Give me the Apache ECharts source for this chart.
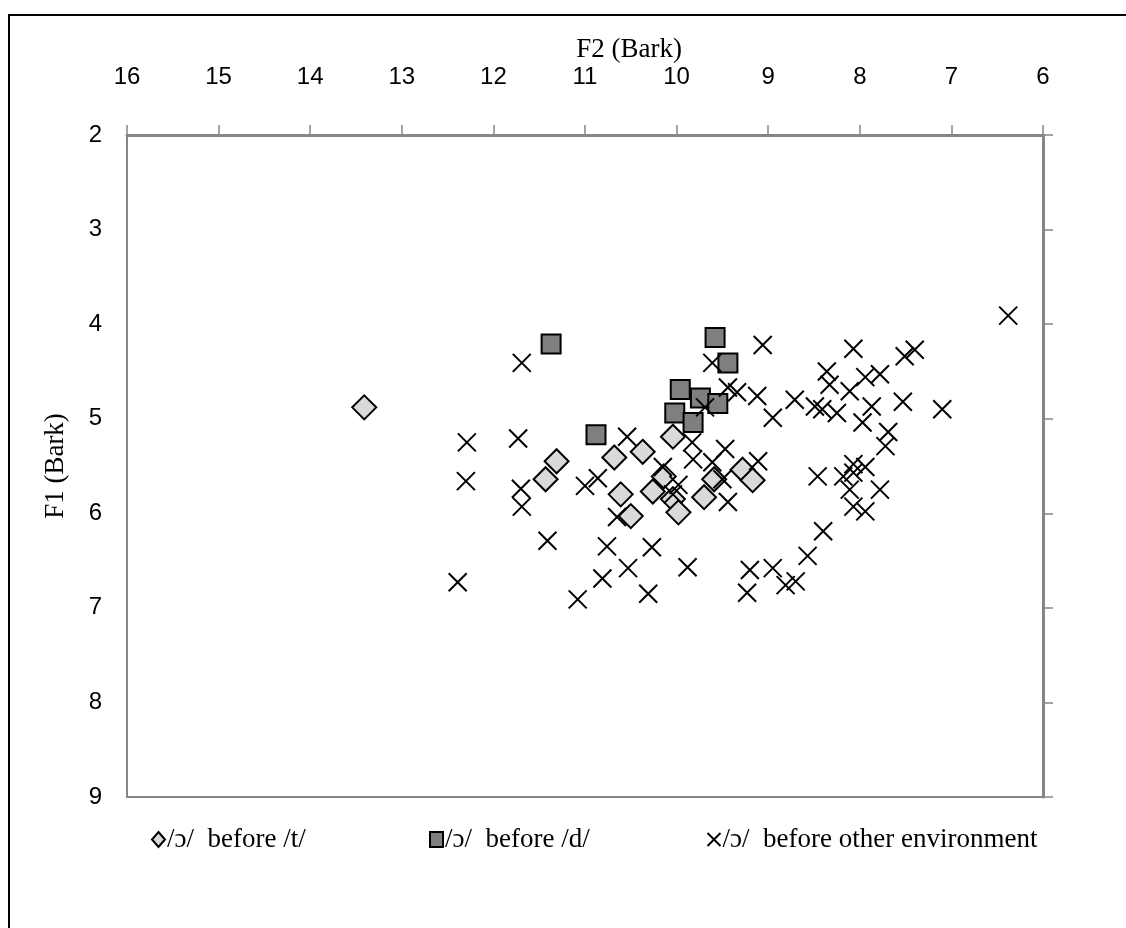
<!DOCTYPE html>
<html>
<head>
<meta charset="utf-8">
<script src="https://cdn.jsdelivr.net/npm/echarts@6/dist/echarts.min.js"></script>
<style>
  html, body { margin: 0; padding: 0; background: #ffffff; }
  #chart { width: 1126px; height: 928px; }
</style>
</head>
<body>
<div id="chart"></div>
<script>
// Vowel /ɔ/ tokens: F2 (Bark) on x, F1 (Bark) on y
const beforeT_F2 = [13.41, 11.31, 11.43, 10.68, 10.37, 10.04, 10.61, 10.50, 10.26, 10.14, 10.04, 9.98, 9.70, 9.59, 9.28, 9.17];
const beforeT_F1 = [4.88, 5.45, 5.64, 5.41, 5.35, 5.19, 5.80, 6.03, 5.77, 5.61, 5.85, 5.99, 5.83, 5.64, 5.54, 5.65];

const beforeD_F2 = [11.37, 9.58, 9.44, 9.96, 9.74, 9.55, 10.02, 9.82, 10.88];
const beforeD_F1 = [4.21, 4.14, 4.41, 4.69, 4.78, 4.84, 4.94, 5.04, 5.17];

const other_F2 = [6.38, 11.69, 12.29, 11.73, 12.30, 11.70, 11.69, 11.41, 12.39, 11.08,
                  10.81, 10.76, 10.53, 10.27, 10.31, 9.88, 11.00, 10.86, 10.54, 10.65,
                  9.83, 9.82, 9.61, 9.47, 10.15, 9.98, 10.04, 9.44, 9.50, 9.11,
                  8.95, 9.06, 9.61, 9.44, 9.34, 9.12, 9.69, 8.07, 7.51, 7.40,
                  8.36, 7.94, 7.78, 8.33, 8.11, 8.71, 8.49, 8.41, 8.25, 7.53,
                  7.10, 7.87, 7.97, 7.69, 7.72, 8.46, 8.18, 8.07, 7.94, 8.07,
                  8.11, 7.78, 8.07, 7.94, 8.40, 8.57, 9.20, 8.95, 9.23, 8.81, 8.70];
const other_F1 = [3.91, 4.41, 5.25, 5.21, 5.66, 5.74, 5.93, 6.29, 6.73, 6.91,
                  6.69, 6.35, 6.58, 6.36, 6.85, 6.57, 5.71, 5.63, 5.19, 6.04,
                  5.25, 5.43, 5.46, 5.32, 5.51, 5.70, 5.80, 5.88, 5.64, 5.45,
                  4.99, 4.22, 4.41, 4.67, 4.72, 4.76, 4.88, 4.26, 4.34, 4.27,
                  4.50, 4.56, 4.53, 4.64, 4.71, 4.80, 4.87, 4.90, 4.94, 4.82,
                  4.90, 4.87, 5.04, 5.14, 5.29, 5.61, 5.61, 5.48, 5.51, 5.57,
                  5.75, 5.75, 5.93, 5.98, 6.19, 6.45, 6.60, 6.58, 6.84, 6.76, 6.72];

const seriesNames = ['/ɔ/  before /t/', '/ɔ/  before /d/', '/ɔ/  before other environment'];

const zip = (xs, ys) => xs.map((x, i) => [x, ys[i]]);

const AXIS_GRAY = '#868686';
const SANS = '"Liberation Sans", Arial, sans-serif';
const SERIF = '"Liberation Serif", "Times New Roman", serif';
const CROSS = 'path://M0,0L10,10M10,0L0,10';

const chart = echarts.init(document.getElementById('chart'), null, { renderer: 'canvas' });

chart.setOption({
  backgroundColor: '#ffffff',
  animation: false,
  title: {
    text: 'F2 (Bark)',
    left: 624,
    top: 31,
    textAlign: 'center',
    textStyle: { fontFamily: SERIF, fontSize: 27, fontWeight: 'normal', color: '#000' }
  },
  graphic: [{
    type: 'rect',
    shape: { x: 9, y: 15, width: 1140, height: 940 },
    style: { fill: 'none', stroke: '#000', lineWidth: 2 },
    silent: true
  }],
  grid: {
    left: 127, right: 83, top: 135, bottom: 131,
    show: true, borderColor: AXIS_GRAY, borderWidth: 2, backgroundColor: 'transparent'
  },
  xAxis: {
    type: 'value', position: 'top', inverse: true,
    min: 6, max: 16, interval: 1,
    axisLine: { show: true, lineStyle: { color: AXIS_GRAY, width: 3 } },
    axisTick: { show: true, inside: false, length: 10, lineStyle: { color: AXIS_GRAY, width: 1.5 } },
    axisLabel: { margin: 46, fontFamily: SANS, fontSize: 24, color: '#000' },
    splitLine: { show: false }
  },
  yAxis: [{
    type: 'value', position: 'left', inverse: true,
    min: 2, max: 9, interval: 1,
    name: 'F1 (Bark)', nameLocation: 'middle', nameGap: 58, nameRotate: 90,
    nameTextStyle: { fontFamily: SERIF, fontSize: 27, color: '#000' },
    axisLine: { show: true, lineStyle: { color: AXIS_GRAY, width: 2 } },
    axisTick: { show: false },
    axisLabel: { margin: 25, fontFamily: SANS, fontSize: 24, color: '#000' },
    splitLine: { show: false }
  }, {
    type: 'value', position: 'right', inverse: true,
    min: 2, max: 9, interval: 1,
    axisLine: { show: true, lineStyle: { color: AXIS_GRAY, width: 3 } },
    axisTick: { show: true, inside: false, length: 10, lineStyle: { color: AXIS_GRAY, width: 1.5 } },
    axisLabel: { show: false },
    splitLine: { show: false }
  }],
  legend: [
    { data: [seriesNames[0]], left: 146, top: 821 },
    { data: [seriesNames[1]], left: 424, top: 821 },
    { data: [seriesNames[2]], left: 700, top: 821 }
  ].map(l => Object.assign(l, {
    orient: 'horizontal', itemWidth: 13, itemHeight: 15, itemGap: 4,
    textStyle: { fontFamily: SERIF, fontSize: 27, color: '#000', padding: [0, 0, 0, -3] },
    selectedMode: false
  })),
  series: [{
    name: seriesNames[0], type: 'scatter',
    data: zip(beforeT_F2, beforeT_F1),
    symbol: 'diamond', symbolSize: 24,
    itemStyle: { color: '#d9d9d9', borderColor: '#000', borderWidth: 2, opacity: 1 }
  }, {
    name: seriesNames[1], type: 'scatter',
    data: zip(beforeD_F2, beforeD_F1),
    symbol: 'rect', symbolSize: 19,
    itemStyle: { color: '#7f7f7f', borderColor: '#000', borderWidth: 2, opacity: 1 }
  }, {
    name: seriesNames[2], type: 'scatter',
    data: zip(other_F2, other_F1),
    symbol: CROSS, symbolSize: 18,
    itemStyle: { color: 'none', borderColor: '#000', borderWidth: 2, opacity: 1 }
  }]
});
</script>
</body>
</html>
